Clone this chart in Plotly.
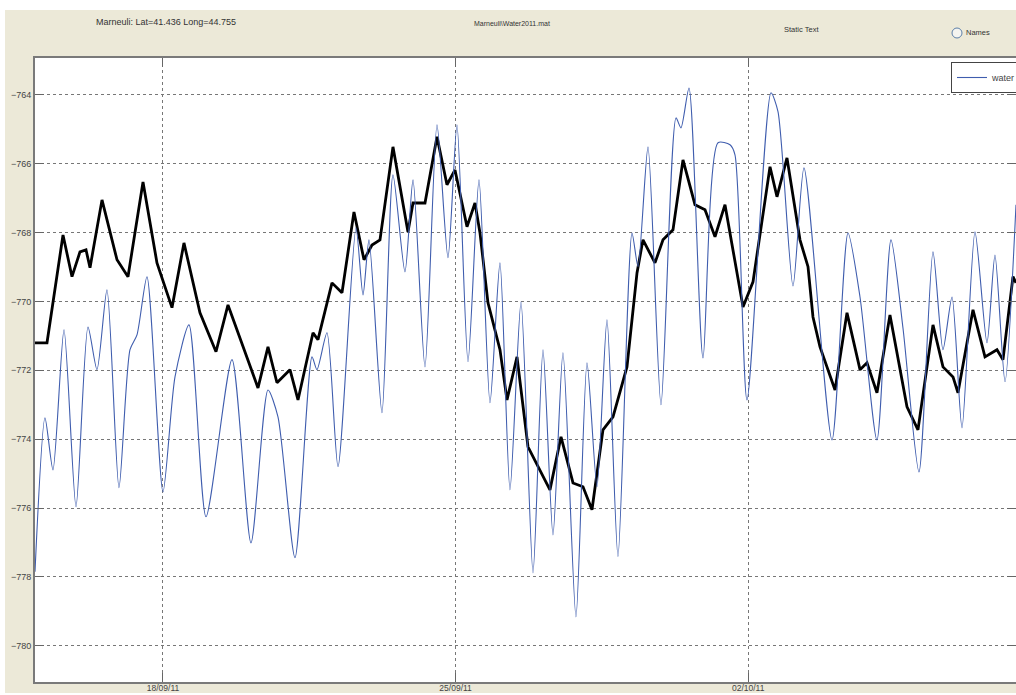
import pandas as pd
import plotly.graph_objects as go

BASE = "2011-09-18"

# blue series ("water"): time in days from 18/09/11 00:00, level
blue_days = [-3.062, -2.823, -2.632, -2.368, -2.081, -1.794, -1.579, -1.340, -1.053, -0.789,
             -0.622, -0.383, 0.000, 0.287, 0.622, 1.029, 1.651, 2.105, 2.512, 2.751,
             3.158, 3.565, 3.684, 3.923, 4.187, 4.617, 4.785, 4.928, 5.239, 5.502,
             5.789, 5.981, 6.268, 6.555, 6.818, 7.033, 7.297, 7.560, 7.823, 8.062,
             8.301, 8.565, 8.852, 9.091, 9.330, 9.569, 9.880, 10.144, 10.383, 10.622,
             10.885, 11.220, 11.364, 11.603, 11.914, 12.273, 12.392, 12.584, 12.919, 13.278,
             13.565, 13.684, 13.971, 14.545, 14.713, 15.072, 15.335, 16.005, 16.388, 16.675,
             17.081, 17.416, 17.703, 18.086, 18.421, 18.660, 18.876, 19.115, 19.426, 19.713,
             19.904, 20.144, 20.407]
blue_level = [-777.85, -773.38, -774.89, -770.82, -775.96, -770.74, -771.98, -769.66, -775.41, -771.40,
              -770.97, -769.28, -775.53, -772.19, -770.68, -776.25, -771.69, -777.01, -772.57, -773.35,
              -777.44, -771.61, -771.98, -770.91, -774.80, -767.86, -769.81, -768.21, -773.23, -766.32,
              -769.14, -766.47, -771.90, -764.87, -768.73, -764.87, -771.75, -766.47, -772.94, -768.88,
              -775.47, -770.01, -777.88, -771.40, -776.78, -771.49, -779.16, -771.78, -775.38, -770.53,
              -777.41, -768.01, -768.99, -765.51, -773.00, -764.67, -764.96, -763.80, -771.64, -765.39,
              -765.45, -765.74, -772.86, -763.94, -764.49, -769.55, -766.12, -774.02, -768.01, -769.87,
              -774.02, -768.21, -770.77, -774.95, -768.56, -771.40, -769.87, -773.67, -767.98, -771.20,
              -768.65, -772.33, -767.19]

# black series: time in days from 18/09/11 00:00, level
black_days = [-3.062, -2.775, -2.392, -2.177, -1.986, -1.842, -1.746, -1.459, -1.100, -0.837,
              -0.478, -0.144, 0.215, 0.502, 0.885, 1.268, 1.555, 2.273, 2.512, 2.727,
              3.038, 3.230, 3.589, 3.708, 4.043, 4.282, 4.569, 4.809, 5.000, 5.191,
              5.502, 5.718, 5.861, 5.981, 6.268, 6.555, 6.794, 6.986, 7.273, 7.464,
              7.584, 7.775, 8.062, 8.230, 8.469, 8.732, 8.971, 9.258, 9.522, 9.809,
              10.048, 10.263, 10.526, 10.766, 11.100, 11.340, 11.483, 11.770, 11.962, 12.201,
              12.440, 12.727, 12.967, 13.206, 13.445, 13.876, 14.115, 14.522, 14.689, 14.928,
              15.239, 15.431, 15.550, 15.718, 16.077, 16.364, 16.675, 16.842, 17.081, 17.392,
              17.799, 18.062, 18.421, 18.660, 18.900, 19.019, 19.378, 19.665, 19.952, 20.096,
              20.335, 20.407]
black_level = [-771.20, -771.20, -768.07, -769.28, -768.56, -768.50, -769.02, -767.05, -768.79, -769.28,
               -766.53, -768.88, -770.18, -768.30, -770.33, -771.46, -770.10, -772.51, -771.32, -772.36,
               -771.98, -772.86, -770.91, -771.11, -769.46, -769.75, -767.40, -768.79, -768.36, -768.21,
               -765.51, -767.05, -767.98, -767.14, -767.14, -765.22, -766.61, -766.18, -767.83, -767.14,
               -768.01, -770.04, -771.40, -772.86, -771.61, -774.22, -774.80, -775.47, -773.93, -775.27,
               -775.38, -776.05, -773.73, -773.35, -771.90, -769.17, -768.21, -768.88, -768.21, -767.92,
               -765.89, -767.19, -767.34, -768.12, -767.19, -770.16, -769.43, -766.09, -766.96, -765.83,
               -768.21, -768.99, -770.45, -771.32, -772.57, -770.33, -771.98, -771.78, -772.65, -770.39,
               -773.06, -773.73, -770.68, -771.90, -772.19, -772.65, -770.24, -771.61, -771.40, -771.69,
               -769.28, -769.46]

x_tick_dates = ["2011-09-18", "2011-09-25", "2011-10-02"]
x_tick_text = ["18/09/11", "25/09/11", "02/10/11"]
y_tick_vals = [-780, -778, -776, -774, -772, -770, -768, -766, -764]
x_range_days = [-3.062, 20.407]
y_range = [-781.05, -762.93]


def to_time(days):
    return pd.Timestamp(BASE) + pd.to_timedelta(pd.Series(days), unit="D")


BEIGE = "#ECE9D8"
FONT = "Liberation Sans, Arial, sans-serif"

fig = go.Figure()
fig.add_trace(go.Scatter(
    x=to_time(black_days), y=black_level, mode="lines", name="level",
    line=dict(color="#000000", width=2.8), showlegend=False))
fig.add_trace(go.Scatter(
    x=to_time(blue_days), y=blue_level, mode="lines", name="water",
    line=dict(color="#3F5DAE", width=1.1, shape="spline", smoothing=0.7)))

W, H = 1016, 695
L, R, T, B = 35, 0, 58, 13
pw, ph = W - L - R, H - T - B


def px(x):
    return (x - L) / pw


def py(y):
    return (H - B - y) / ph


xr = to_time(x_range_days)
fig.update_layout(
    width=W, height=H, autosize=False,
    margin=dict(l=L, r=R, t=T, b=B, autoexpand=False),
    paper_bgcolor=BEIGE, plot_bgcolor="white",
    font=dict(family=FONT, size=9, color="#333333"),
    showlegend=True,
    legend=dict(x=px(951), y=py(62), xanchor="left", yanchor="top",
                bgcolor="white", bordercolor="#444444", borderwidth=1,
                font=dict(size=9, color="#444444"),
                itemwidth=30, tracegroupgap=0),
    xaxis=dict(type="date", range=[xr.iloc[0], xr.iloc[1]],
               tickvals=pd.to_datetime(x_tick_dates), ticktext=x_tick_text,
               showgrid=True, gridcolor="#777777", griddash="dot", gridwidth=1,
               showline=True, linecolor="#7a7a7a", linewidth=2, mirror="ticks",
               ticks="inside", ticklen=9, tickcolor="#666666", tickwidth=1,
               ticklabelstandoff=-3,
               tickfont=dict(size=8.5, color="#444444"), zeroline=False),
    yaxis=dict(range=y_range, tickvals=y_tick_vals,
               showgrid=True, gridcolor="#777777", griddash="dot", gridwidth=1,
               showline=True, linecolor="#7a7a7a", linewidth=2, mirror="ticks",
               ticks="inside", ticklen=9, tickcolor="#666666", tickwidth=1,
               tickfont=dict(size=9, color="#444444"), zeroline=False),
)

# white frame strips around the beige panel
fig.add_shape(type="rect", xref="paper", yref="paper", x0=px(0), x1=px(W), y0=py(10), y1=py(0),
              fillcolor="white", line=dict(width=0), layer="below")
fig.add_shape(type="rect", xref="paper", yref="paper", x0=px(0), x1=px(5), y0=py(H), y1=py(0),
              fillcolor="white", line=dict(width=0), layer="below")
fig.add_shape(type="rect", xref="paper", yref="paper", x0=px(0), x1=px(W), y0=py(H), y1=py(693),
              fillcolor="white", line=dict(width=0), layer="below")

# radio button circle
fig.add_shape(type="circle", xref="paper", yref="paper", x0=px(952), x1=px(962), y0=py(38), y1=py(28),
              fillcolor="#F4F4F0", line=dict(color="#5C7FA8", width=1))

ann = [
    dict(text="Marneuli: Lat=41.436 Long=44.755", x=px(166), y=py(22), size=9),
    dict(text="Marneuli\\Water2011.mat", x=px(512), y=py(24), size=7),
    dict(text="Static Text", x=px(801), y=py(30), size=7.5),
]
for a in ann:
    fig.add_annotation(text=a["text"], x=a["x"], y=a["y"], xref="paper", yref="paper",
                       showarrow=False, xanchor="center", yanchor="middle",
                       font=dict(family=FONT, size=a["size"], color="#333333"))
fig.add_annotation(text="Names", x=px(964), y=py(33), xref="paper", yref="paper",
                   showarrow=False, xanchor="left", yanchor="middle",
                   font=dict(family=FONT, size=7.5, color="#333333"))

fig.write_html("out.html")
